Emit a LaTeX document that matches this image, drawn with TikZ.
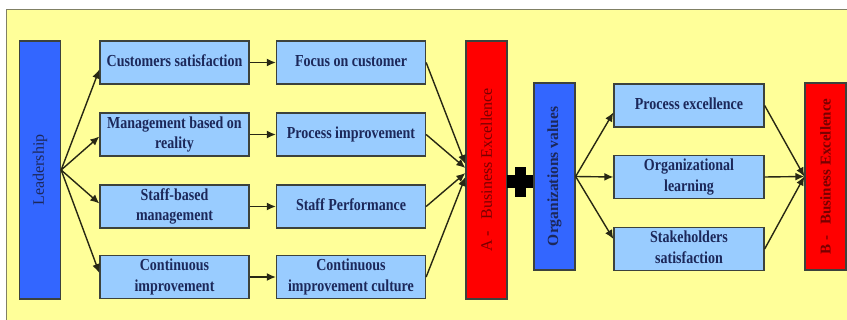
\documentclass[tikz,border=0pt]{standalone}
\usepackage{fontspec}
\usepackage{graphicx}
\setmainfont{Liberation Serif}
\usetikzlibrary{arrows.meta}
\definecolor{bgyellow}{RGB}{255,255,153}
\definecolor{framegray}{RGB}{128,128,100}
\definecolor{boxblue}{RGB}{153,204,255}
\definecolor{deepblue}{RGB}{51,102,255}
\definecolor{boxred}{RGB}{255,0,0}
\definecolor{edgegray}{RGB}{60,66,60}
\definecolor{navytext}{RGB}{28,40,90}
\definecolor{redtext}{RGB}{120,0,0}
\definecolor{linecol}{RGB}{40,40,20}
\newcommand\boxtxt[1]{\scalebox{1}[1.2]{\begin{tabular}{@{}c@{}}#1\end{tabular}}}
\tikzset{
  itembox/.style={draw=edgegray, line width=1.3pt, fill=boxblue, minimum width=149pt, minimum height=43pt,
    inner sep=1pt, align=center, text=navytext, font=\bfseries\fontsize{14}{17}\selectfont},
  tallbox/.style={draw=edgegray, line width=1.3pt, minimum width=41pt, inner sep=0pt},
  arr/.style={draw=linecol, line width=1.4pt, -{Latex[length=9pt,width=8pt]}},
  vtext/.style={rotate=90, inner sep=0pt}
}
\begin{document}
\begin{tikzpicture}[x=1pt,y=-1pt]
\useasboundingbox (0,0) rectangle (847,320);
\fill[white] (0,0) rectangle (847,320);
\draw[framegray, line width=1pt, fill=bgyellow] (6,10) rectangle (855,330);

% left tall box
\node[tallbox, fill=deepblue, minimum height=258pt,
  label={[vtext, text=navytext, font=\fontsize{16}{18}\selectfont]center:Leadership}] (lead) at (40,170) {};

% column 1
\node[itembox] (b1) at (174.5,62.5) {\boxtxt{Customers satisfaction}};
\node[itembox] (b2) at (174.5,134.5) {\boxtxt{Management based on\\reality}};
\node[itembox] (b3) at (174.5,206.5) {\boxtxt{Staff-based\\management}};
\node[itembox] (b4) at (174.5,277) {\boxtxt{Continuous\\improvement}};

% column 2
\node[itembox] (c1) at (351,62.5) {\boxtxt{Focus on customer}};
\node[itembox] (c2) at (351,134.5) {\boxtxt{Process improvement}};
\node[itembox] (c3) at (351,206.5) {\boxtxt{Staff Performance}};
\node[itembox] (c4) at (351,277) {\boxtxt{Continuous\\improvement culture}};

% A box
\node[tallbox, fill=boxred, minimum height=258pt,
  label={[vtext, text=redtext, font=\fontsize{16}{18}\selectfont]center:A -\ \ \ Business Excellence}] (A) at (486.5,170) {};

% plus sign
\fill[black] (507,175) rectangle (535,188);
\fill[black] (515,167) rectangle (526,197);

% organization values
\node[tallbox, fill=deepblue, minimum height=187pt,
  label={[vtext, text=navytext, font=\bfseries\fontsize{15.5}{17}\selectfont]center:Organizations values}] (org) at (554.5,176.5) {};

% right column
\node[itembox, minimum width=150pt] (r1) at (689,105.5) {\boxtxt{Process excellence}};
\node[itembox, minimum width=150pt] (r2) at (689,177) {\boxtxt{Organizational\\learning}};
\node[itembox, minimum width=150pt] (r3) at (689,249) {\boxtxt{Stakeholders\\satisfaction}};

% B box
\node[tallbox, fill=boxred, minimum height=187pt,
  label={[vtext, text=redtext, font=\bfseries\fontsize{15}{17}\selectfont]center:B -\ \ \ Business Excellence}] (B) at (825.5,176.5) {};

% arrows from leadership
\draw[arr] (lead.east) -- ([yshift=-7pt]b1.west);
\draw[arr] (lead.east) -- ([yshift=-2pt]b2.west);
\draw[arr] (lead.east) -- ([yshift=3pt]b3.west);
\draw[arr] (lead.east) -- ([yshift=4pt]b4.west);

% column 1 to column 2
\draw[arr] (b1.east) -- (c1.west);
\draw[arr] (b2.east) -- (c2.west);
\draw[arr] (b3.east) -- (c3.west);
\draw[arr] (b4.east) -- (c4.west);

% column 2 to A
\draw[arr] (c1.east) -- ([yshift=6pt]A.west);
\draw[arr] (c2.east) -- ([yshift=2pt]A.west);
\draw[arr] (c3.east) -- ([yshift=-3pt]A.west);
\draw[arr] (c4.east) -- ([yshift=-7pt]A.west);

% org to right column
\draw[arr] (org.east) -- ([yshift=-7pt]r1.west);
\draw[arr] (org.east) -- (r2.west);
\draw[arr] (org.east) -- ([yshift=10pt]r3.west);

% right column to B
\draw[arr] (r1.east) -- (B.west);
\draw[arr] (r2.east) -- (B.west);
\draw[arr] (r3.east) -- (B.west);
\end{tikzpicture}
\end{document}
